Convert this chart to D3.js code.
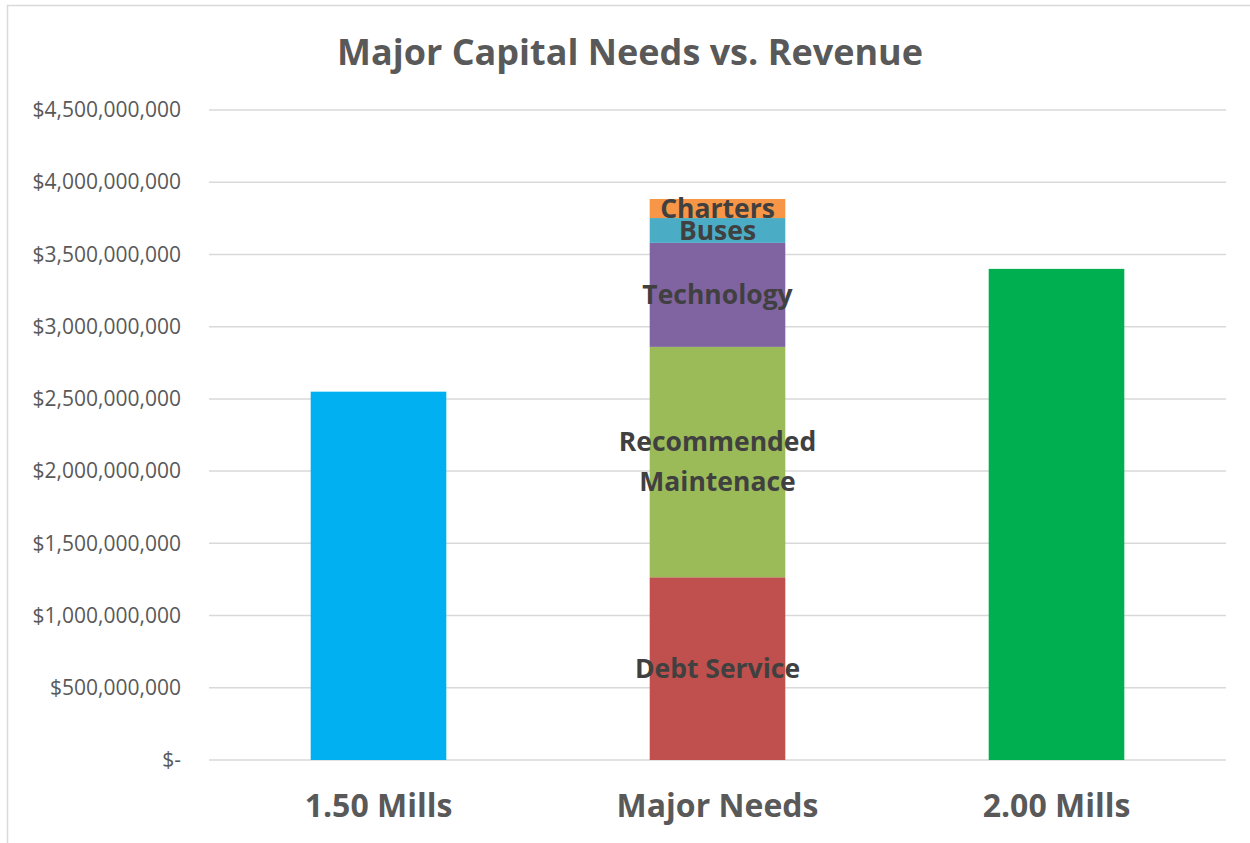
<!DOCTYPE html>
<html>
<head>
<meta charset="utf-8">
<script src="https://cdn.jsdelivr.net/npm/d3@7"></script>
<style>
  body { margin: 0; background: #fff; }
  text { font-family: "Open Sans", "Noto Sans", sans-serif; }
</style>
</head>
<body>
<div id="chart"></div>
<script>
// Categories along the x axis
const categories = ["1.50 Mills", "Major Needs", "2.00 Mills"];

// Single-value revenue bars
const revenueValues = { "1.50 Mills": 2550000000, "2.00 Mills": 3400000000 };

// Stacked needs in the middle bar (bottom to top)
const needNames = ["Debt Service", "Recommended Maintenace", "Technology", "Buses", "Charters"];
const needValues = [1265000000, 1595000000, 720000000, 172000000, 132000000];
const needLabels = [["Debt Service"], ["Recommended", "Maintenace"], ["Technology"], ["Buses"], ["Charters"]];

// Y ticks
const yTicks = [0, 500000000, 1000000000, 1500000000, 2000000000, 2500000000,
                3000000000, 3500000000, 4000000000, 4500000000];

// Colours
const revenueColors = { "1.50 Mills": "#00B0F0", "2.00 Mills": "#00B050" };
const needColors = ["#C0504D", "#9BBB59", "#8064A2", "#4BACC6", "#F79646"];

// Chart dimensions
const W = 1250, H = 843;
const margin = { top: 110, right: 24, bottom: 83, left: 209 },
      width = W - margin.left - margin.right,
      height = H - margin.top - margin.bottom;

const root = d3.select("#chart").append("svg")
    .attr("width", W)
    .attr("height", H);

// Outer chart border
root.append("rect")
    .attr("x", 7.5).attr("y", 5.5)
    .attr("width", W).attr("height", H)
    .attr("fill", "none")
    .attr("stroke", "#d9d9d9")
    .attr("stroke-width", 1.5);

// Title
root.append("text")
    .attr("x", 630).attr("y", 65)
    .attr("text-anchor", "middle")
    .style("font-size", "36px")
    .style("font-weight", "bold")
    .style("fill", "#595959")
    .text("Major Capital Needs vs. Revenue");

const svg = root.append("g")
    .attr("transform", `translate(${margin.left},${margin.top})`);

// Scales
const x = d3.scaleBand().domain(categories).range([0, width]).paddingInner(0.6).paddingOuter(0.3);
const y = d3.scaleLinear().domain([0, 4500000000]).range([height, 0]);

// Gridlines
svg.append("g")
  .selectAll("line")
  .data(yTicks)
  .join("line")
    .attr("x1", 0).attr("x2", width)
    .attr("y1", d => y(d)).attr("y2", d => y(d))
    .attr("stroke", "#d9d9d9")
    .attr("stroke-width", 1.5);

// Y axis labels
const fmt = d3.format(",");
const yAxis = svg.append("g")
    .call(d3.axisLeft(y).tickValues(yTicks).tickSize(0).tickPadding(28)
      .tickFormat(d => d === 0 ? "$-" : "$" + fmt(d)));
yAxis.select(".domain").remove();
yAxis.selectAll("text")
    .style("font-size", "21px")
    .style("fill", "#595959")
    .style("font-family", "'Open Sans', sans-serif");

// X axis labels
const xAxis = svg.append("g")
    .attr("transform", `translate(0,${height})`)
    .call(d3.axisBottom(x).tickSize(0).tickPadding(34));
xAxis.select(".domain").remove();
xAxis.selectAll("text")
    .style("font-size", "32px")
    .style("font-weight", "bold")
    .style("fill", "#595959")
    .style("font-family", "'Open Sans', sans-serif");

// Revenue bars
svg.selectAll(".rev")
  .data(Object.keys(revenueValues))
  .join("rect")
    .attr("class", "rev")
    .attr("x", d => x(d))
    .attr("width", x.bandwidth())
    .attr("y", d => y(revenueValues[d]))
    .attr("height", d => height - y(revenueValues[d]))
    .attr("fill", d => revenueColors[d]);

// Stacked needs
let acc = 0;
const stackData = needValues.map((v, i) => {
  const d = { name: needNames[i], y0: acc, y1: acc + v, label: needLabels[i], color: needColors[i] };
  acc += v;
  return d;
});

svg.selectAll(".need")
  .data(stackData)
  .join("rect")
    .attr("class", "need")
    .attr("x", x("Major Needs"))
    .attr("width", x.bandwidth())
    .attr("y", d => y(d.y1))
    .attr("height", d => y(d.y0) - y(d.y1))
    .attr("fill", d => d.color);

// Segment labels
const cx = x("Major Needs") + x.bandwidth() / 2;
stackData.forEach(d => {
  const mid = (y(d.y0) + y(d.y1)) / 2;
  const lh = 40;
  const t = svg.append("text")
    .attr("text-anchor", "middle")
    .style("font-size", "26.5px")
    .style("font-weight", "bold")
    .style("fill", "#404040");
  d.label.forEach((line, i) => {
    t.append("tspan")
      .attr("x", cx)
      .attr("y", mid - (d.label.length - 1) * lh / 2 + i * lh)
      .attr("dy", "0.35em")
      .text(line);
  });
});
</script>
</body>
</html>
